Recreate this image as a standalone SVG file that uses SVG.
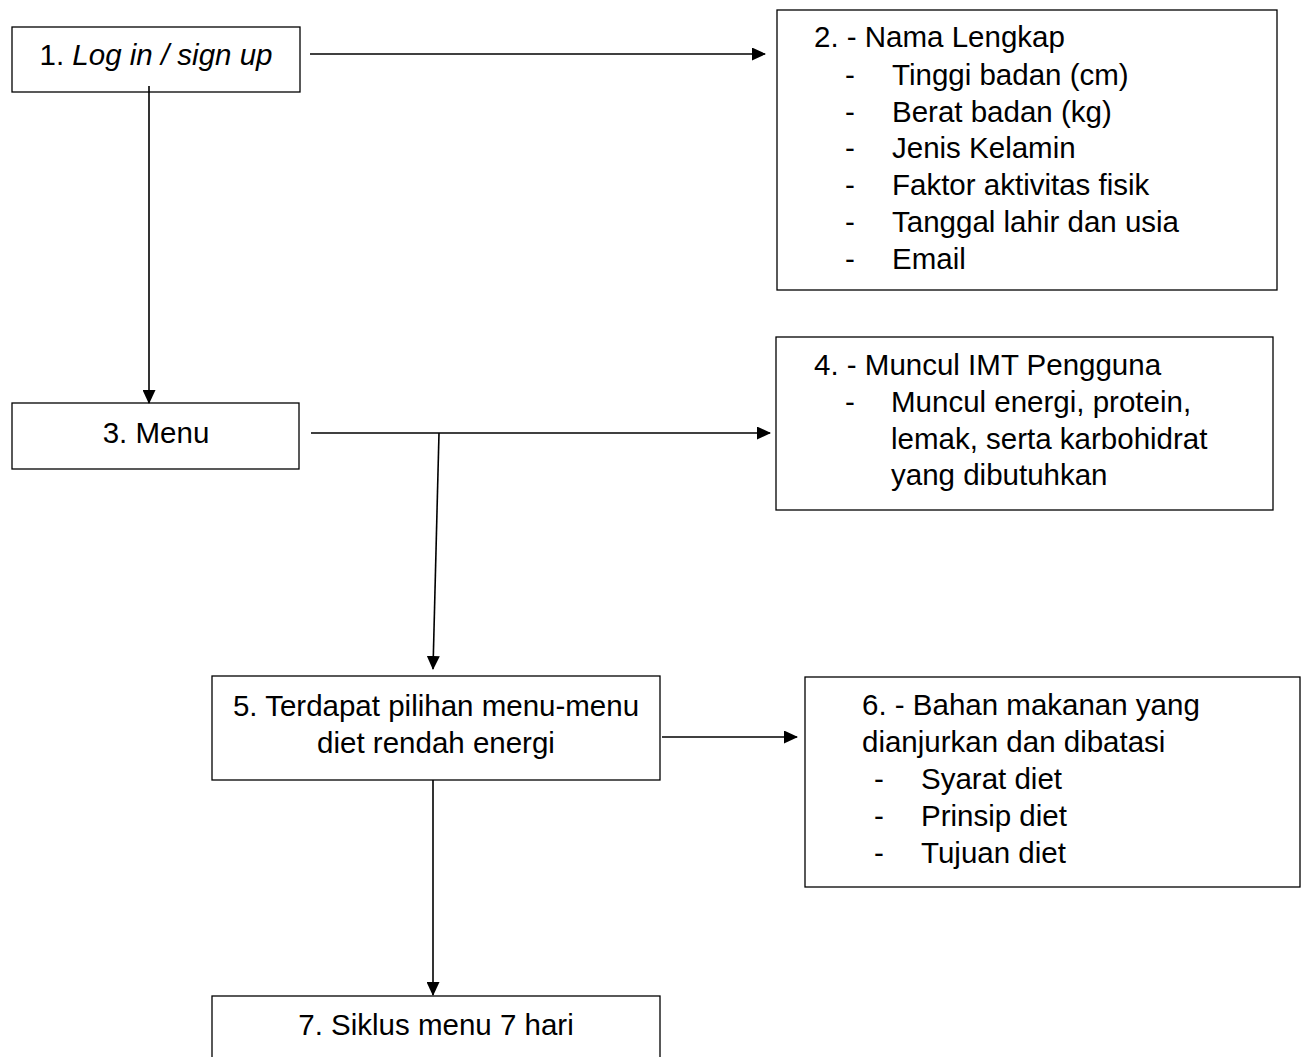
<svg xmlns="http://www.w3.org/2000/svg" width="1307" height="1057" viewBox="0 0 1307 1057">
<defs>
<marker id="arr" markerWidth="14" markerHeight="13" refX="13" refY="6.5" orient="auto" markerUnits="userSpaceOnUse">
<path d="M0,0 L14,6.5 L0,13 Z" fill="#000"/>
</marker>
<style>
rect{fill:#fff;stroke:#000;stroke-width:1.3}
text{font-family:"Liberation Sans",Arial,sans-serif;font-size:29.5px;fill:#000}
.c{text-anchor:middle}
.con{stroke:#000;stroke-width:1.6;fill:none}
</style>
</defs>
<rect x="0" y="0" width="1307" height="1057" style="stroke:none"/>
<g id="n1">
<rect x="12" y="27" width="288" height="65"/>
<text x="156" y="65" class="c">1. <tspan font-style="italic">Log in / sign up</tspan></text>
</g>
<g id="n2">
<rect x="777" y="10" width="500" height="280"/>
<text x="814" y="47">2. - Nama Lengkap</text>
<text x="845" y="85">-</text><text x="892" y="85">Tinggi badan (cm)</text>
<text x="845" y="122">-</text><text x="892" y="122">Berat badan (kg)</text>
<text x="845" y="158">-</text><text x="892" y="158">Jenis Kelamin</text>
<text x="845" y="195">-</text><text x="892" y="195">Faktor aktivitas fisik</text>
<text x="845" y="232">-</text><text x="892" y="232">Tanggal lahir dan usia</text>
<text x="845" y="269">-</text><text x="892" y="269">Email</text>
</g>
<g id="n3">
<rect x="12" y="403" width="287" height="66"/>
<text x="156" y="443" class="c">3. Menu</text>
</g>
<g id="n4">
<rect x="776" y="337" width="497" height="173"/>
<text x="814" y="375">4. - Muncul IMT Pengguna</text>
<text x="845" y="412">-</text><text x="891" y="412">Muncul energi, protein,</text>
<text x="891" y="449">lemak, serta karbohidrat</text>
<text x="891" y="485">yang dibutuhkan</text>
</g>
<g id="n5">
<rect x="212" y="676" width="448" height="104"/>
<text x="436" y="716" class="c">5. Terdapat pilihan menu-menu</text>
<text x="436" y="753" class="c">diet rendah energi</text>
</g>
<g id="n6">
<rect x="805" y="677" width="495" height="210"/>
<text x="862" y="715">6. - Bahan makanan yang</text>
<text x="862" y="752">dianjurkan dan dibatasi</text>
<text x="874" y="789">-</text><text x="921" y="789">Syarat diet</text>
<text x="874" y="826">-</text><text x="921" y="826">Prinsip diet</text>
<text x="874" y="863">-</text><text x="921" y="863">Tujuan diet</text>
</g>
<g id="n7">
<rect x="212" y="996" width="448" height="80"/>
<text x="436" y="1035" class="c">7. Siklus menu 7 hari</text>
</g>
<g id="connectors">
<line class="con" x1="310" y1="54" x2="765" y2="54" marker-end="url(#arr)"/>
<line class="con" x1="149" y1="86" x2="149" y2="403" marker-end="url(#arr)"/>
<line class="con" x1="311" y1="433" x2="770" y2="433" marker-end="url(#arr)"/>
<line class="con" x1="439" y1="433" x2="433" y2="669" marker-end="url(#arr)"/>
<line class="con" x1="662" y1="737" x2="797" y2="737" marker-end="url(#arr)"/>
<line class="con" x1="433" y1="780" x2="433" y2="995" marker-end="url(#arr)"/>
</g>
</svg>
